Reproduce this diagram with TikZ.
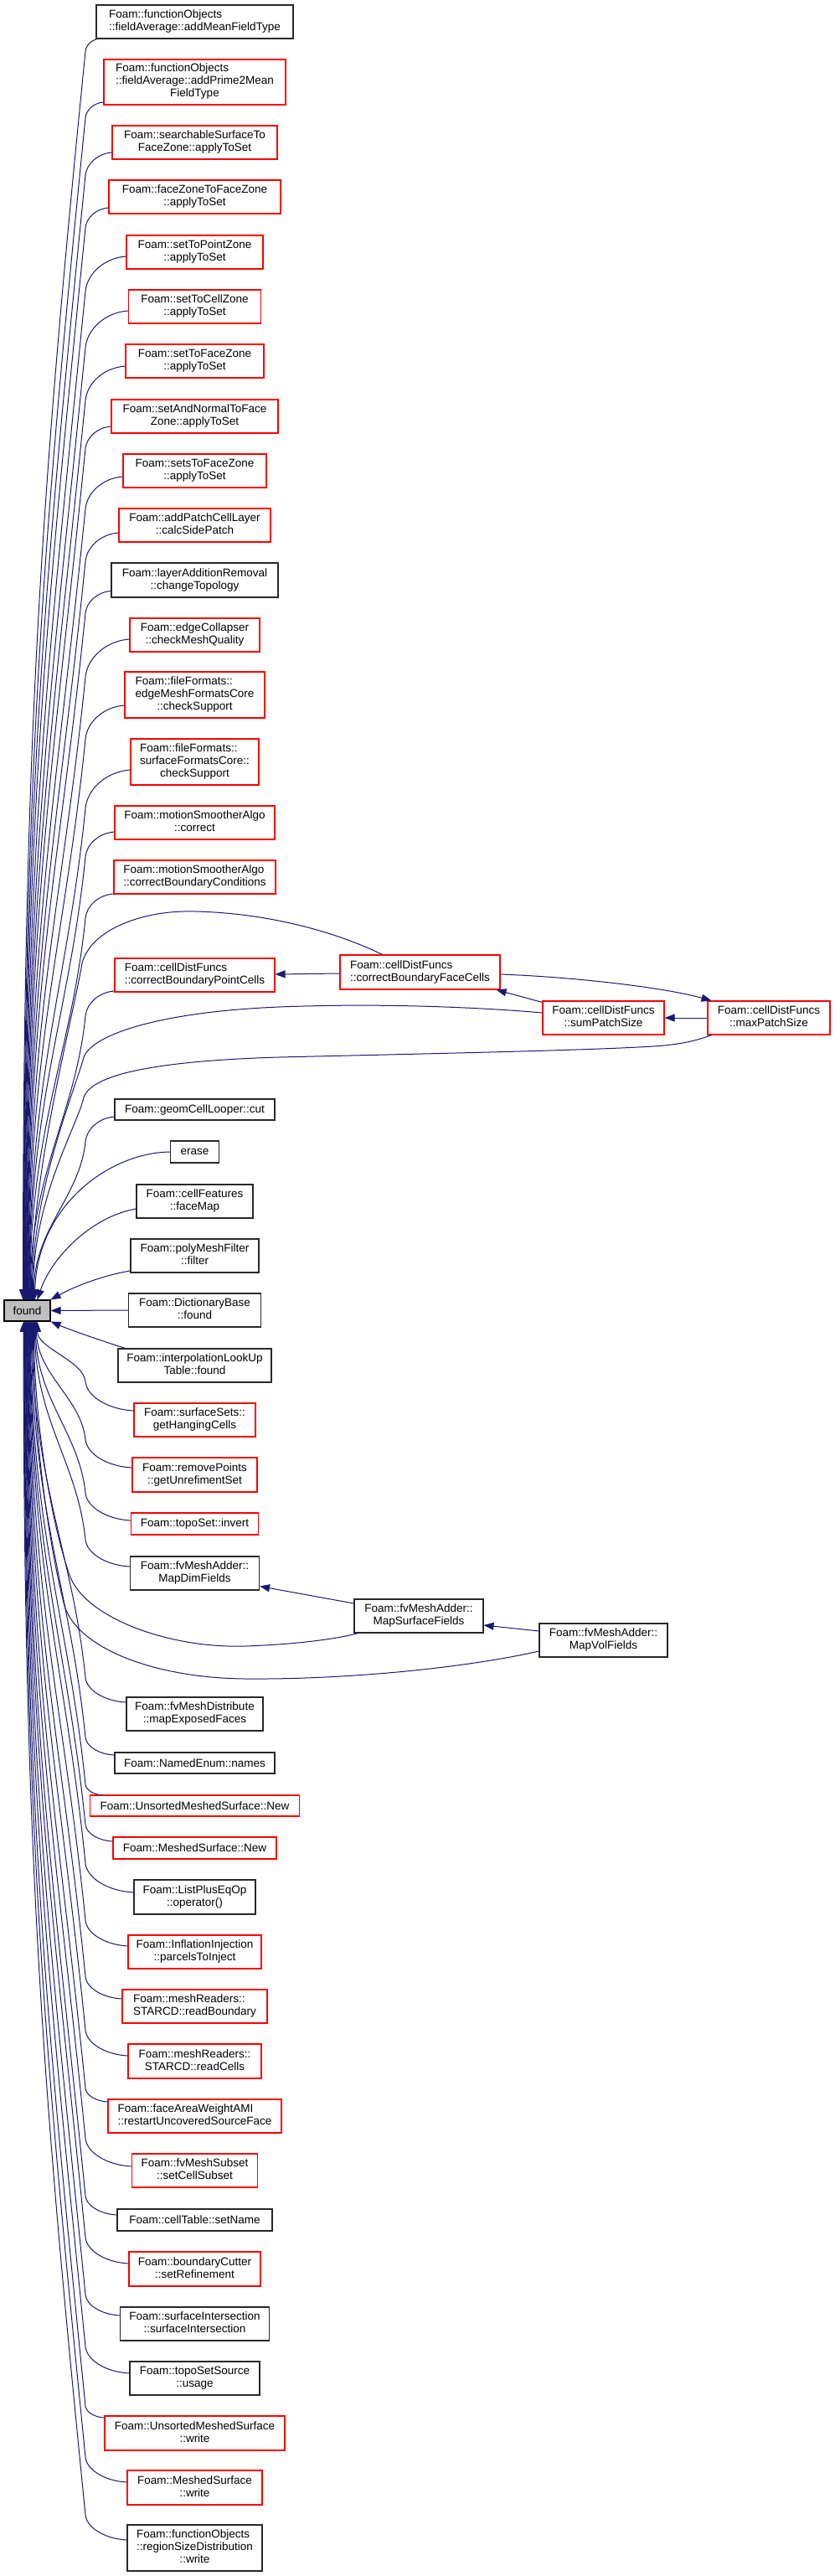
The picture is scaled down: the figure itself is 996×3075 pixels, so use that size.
\documentclass[tikz,border=0pt]{standalone}
\usepackage{fontspec}
\setmainfont{Liberation Sans}
\usetikzlibrary{arrows.meta,calc}
\definecolor{edgecol}{RGB}{25,25,112}
\definecolor{foundgray}{RGB}{191,191,191}
\definecolor{boxblack}{RGB}{40,40,40}
\newcommand{\labA}[2]{\begin{tabular}{@{}l@{}}#1\\\multicolumn{1}{@{}c@{}}{#2}\end{tabular}}
\newcommand{\labB}[3]{\begin{tabular}{@{}l@{}}#1\\#2\\\multicolumn{1}{@{}c@{}}{#3}\end{tabular}}
\newcommand{\lnode}[6]{\node[#2, minimum width=#4pt, minimum height=#5pt] (#1) at (232.5,#3) {#6};}
% edge from found (top) to a node above it
\newcommand{\upE}[6]{%
\pgfmathsetmacro{\zEx}{232.5-#2/2+#4}%
\pgfmathsetmacro{\zEy}{#3+#5}%
\pgfmathsetmacro{\zPx}{102}%
\pgfmathsetmacro{\zPy}{\zEy+0.85*(\zEx-\zPx)}%
\pgfmathsetmacro{\zD}{1552-\zPy}%
\pgfmathsetmacro{\zAx}{32.5+#6}%
\pgfmathsetmacro{\zcAy}{1552-0.45*\zD}%
\pgfmathsetmacro{\zcBx}{\zPx-0.035*\zD}%
\pgfmathsetmacro{\zcBy}{\zPy+0.35*\zD}%
\pgfmathsetmacro{\zs}{0.5*(\zPy-\zEy)}%
\pgfmathsetmacro{\zcCx}{\zPx+0.1*\zs}%
\pgfmathsetmacro{\zcCy}{\zPy-\zs}%
\pgfmathsetmacro{\zcDx}{\zEx-0.55*(\zEx-\zPx)}%
\pgfmathsetmacro{\zcDy}{\zEy+0.05*(\zPy-\zEy)}%
\draw[calledge] ([xshift=#6pt]found.north) .. controls (\zAx,\zcAy) and (\zcBx,\zcBy) .. (\zPx,\zPy) .. controls (\zcCx,\zcCy) and (\zcDx,\zcDy) .. ($(#1.west)+(#4,#5)$);}
% edge from found (bottom) to a node below it
\newcommand{\downE}[6]{%
\pgfmathsetmacro{\zEx}{232.5-#2/2+#4}%
\pgfmathsetmacro{\zEy}{#3+#5}%
\pgfmathsetmacro{\zPx}{102}%
\pgfmathsetmacro{\zPy}{\zEy-0.6*(\zEx-\zPx)}%
\pgfmathsetmacro{\zD}{\zPy-1577}%
\pgfmathsetmacro{\zAx}{32.5+#6}%
\pgfmathsetmacro{\zcAy}{1577+0.45*\zD}%
\pgfmathsetmacro{\zcBx}{\zPx-0.035*\zD}%
\pgfmathsetmacro{\zcBy}{\zPy-0.35*\zD}%
\pgfmathsetmacro{\zs}{0.5*(\zEy-\zPy)}%
\pgfmathsetmacro{\zcCx}{\zPx+0.1*\zs}%
\pgfmathsetmacro{\zcCy}{\zPy+\zs}%
\pgfmathsetmacro{\zcDx}{\zEx-0.55*(\zEx-\zPx)}%
\pgfmathsetmacro{\zcDy}{\zEy-0.05*(\zEy-\zPy)}%
\draw[calledge] ([xshift=#6pt]found.south) .. controls (\zAx,\zcAy) and (\zcBx,\zcBy) .. (\zPx,\zPy) .. controls (\zcCx,\zcCy) and (\zcDx,\zcDy) .. ($(#1.west)+(#4,#5)$);}

\tikzset{
  >={Triangle[length=12pt,width=9pt]},
  nbox/.style={draw, fill=white, inner sep=0pt, line width=1.1pt,
    font=\fontsize{13.5}{15}\selectfont},
  rbox/.style={nbox, draw=red},
  bbox/.style={nbox, draw=boxblack},
  calledge/.style={draw=edgecol, line width=1pt, <-},
}

\begin{document}
\begin{tikzpicture}[x=1pt,y=-1pt]
\useasboundingbox (0,0) rectangle (996,3075);

% ---------- nodes ----------
\node[nbox, draw=black, fill=foundgray, minimum width=55pt, minimum height=25pt] (found) at (32.5,1564.5) {found};

\lnode{n1}{bbox}{26}{235}{40}{\labA{Foam::functionObjects}{::fieldAverage::addMeanFieldType}}
\lnode{n2}{rbox}{98}{217}{54}{\labB{Foam::functionObjects}{::fieldAverage::addPrime2Mean}{FieldType}}
\lnode{n3}{rbox}{170}{197}{40}{\labA{Foam::searchableSurfaceTo}{FaceZone::applyToSet}}
\lnode{n4}{rbox}{235}{205}{40}{\labA{Foam::faceZoneToFaceZone}{::applyToSet}}
\lnode{n5}{rbox}{301}{163}{40}{\labA{Foam::setToPointZone}{::applyToSet}}
\lnode{n6}{rbox}{366}{158}{40}{\labA{Foam::setToCellZone}{::applyToSet}}
\lnode{n7}{rbox}{431}{165}{40}{\labA{Foam::setToFaceZone}{::applyToSet}}
\lnode{n8}{rbox}{497}{199}{40}{\labA{Foam::setAndNormalToFace}{Zone::applyToSet}}
\lnode{n9}{rbox}{562}{171}{40}{\labA{Foam::setsToFaceZone}{::applyToSet}}
\lnode{n10}{rbox}{627}{181}{40}{\labA{Foam::addPatchCellLayer}{::calcSidePatch}}
\lnode{n11}{bbox}{692.5}{199}{41}{\labA{Foam::layerAdditionRemoval}{::changeTopology}}
\lnode{n12}{rbox}{758}{155}{40}{\labA{Foam::edgeCollapser}{::checkMeshQuality}}
\lnode{n13}{rbox}{829.5}{167}{55}{\labB{Foam::fileFormats::}{edgeMeshFormatsCore}{::checkSupport}}
\lnode{n14}{rbox}{909.5}{153}{55}{\labB{Foam::fileFormats::}{surfaceFormatsCore::}{checkSupport}}
\lnode{n15}{rbox}{982}{191}{40}{\labA{Foam::motionSmootherAlgo}{::correct}}
\lnode{n16}{rbox}{1047}{193}{40}{\labA{Foam::motionSmootherAlgo}{::correctBoundaryConditions}}
\lnode{n17}{rbox}{1164}{191}{40}{\labA{Foam::cellDistFuncs}{::correctBoundaryPointCells}}
\node[rbox, minimum width=191pt, minimum height=41pt] (fcells) at (501.5,1160.5) {\labA{Foam::cellDistFuncs}{::correctBoundaryFaceCells}};
\node[rbox, minimum width=145pt, minimum height=40pt] (sump) at (720.5,1215) {\labA{Foam::cellDistFuncs}{::sumPatchSize}};
\node[rbox, minimum width=146pt, minimum height=40pt] (maxp) at (918,1215) {\labA{Foam::cellDistFuncs}{::maxPatchSize}};
\lnode{n21}{bbox}{1324.5}{191}{25}{Foam::geomCellLooper::cut}
\lnode{erase}{bbox}{1375}{58}{26}{erase}
\lnode{n23}{bbox}{1434}{139}{40}{\labA{Foam::cellFeatures}{::faceMap}}
\lnode{n24}{bbox}{1499}{153}{40}{\labA{Foam::polyMeshFilter}{::filter}}
\lnode{n26}{bbox}{1564}{158}{40}{\labA{Foam::DictionaryBase}{::found}}
\lnode{n27}{bbox}{1630}{183}{40}{\labA{Foam::interpolationLookUp}{Table::found}}
\lnode{n28}{rbox}{1695}{145}{40}{\labA{Foam::surfaceSets::}{getHangingCells}}
\lnode{n29}{rbox}{1760.5}{149}{41}{\labA{Foam::removePoints}{::getUnrefimentSet}}
\lnode{n30}{rbox}{1819}{152}{26}{Foam::topoSet::invert}
\lnode{n31}{bbox}{1878}{154}{40}{\labA{Foam::fvMeshAdder::}{MapDimFields}}
\node[bbox, minimum width=154pt, minimum height=40pt] (mapsurf) at (500,1929) {\labA{Foam::fvMeshAdder::}{MapSurfaceFields}};
\node[bbox, minimum width=153pt, minimum height=40pt] (mapvol) at (720.5,1958) {\labA{Foam::fvMeshAdder::}{MapVolFields}};
\lnode{n34}{bbox}{2046}{163}{40}{\labA{Foam::fvMeshDistribute}{::mapExposedFaces}}
\lnode{n35}{bbox}{2104.5}{191}{25}{Foam::NamedEnum::names}
\lnode{n36}{rbox}{2155.5}{250}{25}{Foam::UnsortedMeshedSurface::New}
\lnode{n37}{rbox}{2206}{195}{26}{Foam::MeshedSurface::New}
\lnode{n38}{bbox}{2264.5}{145}{41}{\labA{Foam::ListPlusEqOp}{::operator()}}
\lnode{n39}{rbox}{2330}{159}{40}{\labA{Foam::InflationInjection}{::parcelsToInject}}
\lnode{n40}{rbox}{2395}{173}{40}{\labA{Foam::meshReaders::}{STARCD::readBoundary}}
\lnode{n41}{rbox}{2460.5}{159}{41}{\labA{Foam::meshReaders::}{STARCD::readCells}}
\lnode{n42}{rbox}{2526}{207}{40}{\labA{Foam::faceAreaWeightAMI}{::restartUncoveredSourceFace}}
\lnode{n43}{rbox}{2591}{150}{40}{\labA{Foam::fvMeshSubset}{::setCellSubset}}
\lnode{n44}{bbox}{2650}{185}{26}{Foam::cellTable::setName}
\lnode{n45}{rbox}{2708.5}{157}{41}{\labA{Foam::boundaryCutter}{::setRefinement}}
\lnode{n46}{bbox}{2774}{178}{40}{\labA{Foam::surfaceIntersection}{::surfaceIntersection}}
\lnode{n47}{bbox}{2839}{155}{40}{\labA{Foam::topoSetSource}{::usage}}
\lnode{n48}{rbox}{2904.5}{215}{41}{\labA{Foam::UnsortedMeshedSurface}{::write}}
\lnode{n49}{rbox}{2969.5}{161}{41}{\labA{Foam::MeshedSurface}{::write}}
\lnode{n50}{bbox}{3041.5}{161}{55}{\labB{Foam::functionObjects}{::regionSizeDistribution}{::write}}

% ---------- edges to found (above) ----------
\upE{n1}{235}{26}{5}{20}{-5}
\upE{n2}{217}{98}{0}{24}{-4.4}
\upE{n3}{197}{170}{0}{12}{-3.9}
\upE{n4}{205}{235}{0}{13}{-3.3}
\upE{n5}{163}{301}{0}{5}{-2.8}
\upE{n6}{158}{366}{0}{5}{-2.2}
\upE{n7}{165}{431}{0}{6}{-1.7}
\upE{n8}{199}{497}{0}{12}{-1.1}
\upE{n9}{171}{562}{0}{7}{-0.6}
\upE{n10}{181}{627}{0}{9}{0}
\upE{n11}{199}{692.5}{0}{13}{0.5}
\upE{n12}{155}{758}{0}{5}{1.1}
\upE{n13}{167}{829.5}{0}{12.5}{1.6}
\upE{n14}{153}{909.5}{0}{9.5}{2.2}
\upE{n15}{191}{982}{0}{11}{2.7}
\upE{n16}{193}{1047}{0}{20}{3.3}
\upE{n17}{191}{1164}{0}{19}{3.8}
\upE{n21}{191}{1324.5}{0}{8.5}{8}

\draw[calledge] ([xshift=5pt]found.north) .. controls (37.5,1400) and (86,1220) .. (98,1150) .. controls (108,1110) and (170,1086) .. (233,1088) .. controls (320,1090) and (400,1112) .. ($(fcells.north west)+(51,0)$);
\draw[calledge] ([xshift=6pt]found.north) .. controls (38.5,1420) and (90,1300) .. (100,1262) .. controls (110,1235) and (190,1208) .. (333,1202) .. controls (460,1197) and (580,1203) .. ($(sump.west)+(0,-6)$);
\draw[calledge] ([xshift=7pt]found.north) .. controls (39.5,1430) and (92,1345) .. (100,1310) .. controls (110,1280) and (200,1266) .. (333,1262) .. controls (500,1258) and (700,1254) .. (780,1249) .. controls (810,1247) and (830,1243) .. ($(maxp.south west)+(5,0)$);
\draw[calledge] ([xshift=9pt]found.north) .. controls (44,1440) and (130,1376) .. (erase.west);
\draw[calledge] ([xshift=12pt]found.north) .. controls (62,1500) and (110,1452) .. ($(n23.west)+(0,9)$);
\draw[calledge] (found.north east) .. controls (90,1535) and (125,1522) .. ($(n24.west)+(0,18)$);
\draw[calledge] (found.east) -- (n26.west);
\draw[calledge] (found.south east) .. controls (85,1588) and (120,1600) .. ($(n27.north west)+(9,0)$);

% ---------- edges to found (below) ----------
\downE{n28}{145}{1695}{0}{-11}{12}
\downE{n29}{149}{1760.5}{0}{-8.5}{11}
\downE{n30}{152}{1819}{0}{-4}{10}
\downE{n31}{154}{1878}{0}{-8}{9}
\draw[calledge] ([xshift=8pt]found.south) .. controls (40.5,1700) and (62,1820) .. (83,1880) .. controls (100,1930) and (200,1968) .. (293,1965) .. controls (350,1963) and (400,1957) .. ($(mapsurf.south west)+(5,0)$);
\draw[calledge] ([xshift=7pt]found.south) .. controls (39.5,1720) and (60,1850) .. (76,1913) .. controls (88,1965) and (180,2003) .. (293,2004) .. controls (420,2005) and (560,1990) .. ($(mapvol.west)+(0,13)$);
\downE{n34}{163}{2046}{0}{-14}{6}
\downE{n35}{191}{2104.5}{0}{-9.5}{5}
\downE{n36}{250}{2155.5}{16}{-12.5}{4}
\downE{n37}{195}{2206}{0}{-8}{3.4}
\downE{n38}{145}{2264.5}{0}{-5.5}{2.8}
\downE{n39}{159}{2330}{0}{-7}{2.2}
\downE{n40}{173}{2395}{0}{-9}{1.6}
\downE{n41}{159}{2460.5}{0}{-6.5}{1}
\downE{n42}{207}{2526}{0}{-17}{0.4}
\downE{n43}{150}{2591}{0}{-5}{-0.2}
\downE{n44}{185}{2650}{0}{-6}{-0.8}
\downE{n45}{157}{2708.5}{0}{-6.5}{-1.4}
\downE{n46}{178}{2774}{0}{-10}{-2}
\downE{n47}{155}{2839}{0}{-6}{-2.6}
\downE{n48}{215}{2904.5}{0}{-18.5}{-3.2}
\downE{n49}{161}{2969.5}{0}{-6.5}{-3.8}
\downE{n50}{161}{3041.5}{0}{-9.5}{-4.4}

% ---------- other edges ----------
\draw[calledge] ($(n17.east)+(0,-1)$) -- ($(fcells.west)+(0,1.5)$);
\draw[calledge] ($(maxp.north west)+(5,0)$) .. controls (790,1178) and (680,1166) .. ($(fcells.east)+(0,2.5)$);
\draw[calledge] ($(fcells.south east)+(-5,0)$) -- ($(sump.north west)+(0,2)$);
\draw[calledge] (sump.east) -- (maxp.west);
\draw[calledge] ($(n31.south east)+(0,-5)$) -- ($(mapsurf.west)+(0,-15)$);
\draw[calledge] ($(mapsurf.east)+(0,11)$) -- ($(mapvol.west)+(0,-11)$);
\end{tikzpicture}
\end{document}
